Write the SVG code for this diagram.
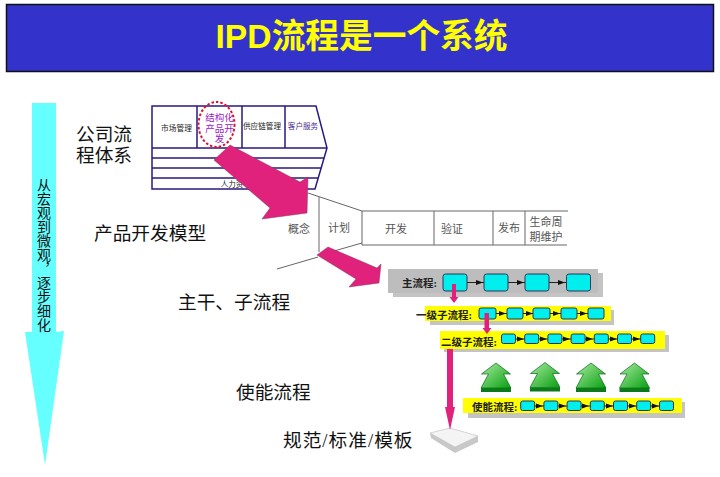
<svg xmlns="http://www.w3.org/2000/svg" width="720" height="477" viewBox="0 0 720 477">
<style>
.serif{font-family:"Liberation Serif","Noto Sans CJK SC",serif}
.sans{font-family:"Liberation Sans","Noto Sans CJK SC",sans-serif}
.lab{font-size:18.700px;fill:#111}
.phase{font-size:11px;fill:#555;text-anchor:middle}
.chev{fill:none;stroke:#2a1a80;stroke-width:1.5}
.thin{fill:none;stroke:#666;stroke-width:1}
.flow{font-size:10.5px;font-weight:bold;fill:#222}
.b1{fill:#00eeee;stroke:#335;stroke-width:1}
.pink{fill:#e0227c}
.bigp{fill:#e0227c;stroke:#7a3a5a;stroke-width:.5}
.lk{stroke:#222;stroke-width:1;fill:none}
.gray{fill:#bdbdbd}
.sh{fill:#c4c4c4}
.yel{fill:#ffff00}
</style>
<defs>
<polygon id="ah" points="0,-2.5 7,0 0,2.5" fill="#111"/>
<linearGradient id="gr" x1="0" y1="0" x2="1" y2="1"><stop offset="0" stop-color="#a8eaa0"/><stop offset="1" stop-color="#08a010"/></linearGradient>
<g id="up"><polygon points="0,0 14.5,11 7.5,11 15,25 -15,25 -7.5,11 -14.5,11" fill="url(#gr)" stroke="#0a6a1a" stroke-width=".7"/><rect x="-15" y="25" width="30" height="4" fill="#0a7a1a"/></g>
</defs>

<g id="title"><rect x="6.500" y="4.500" width="707" height="67" fill="#3333cc" stroke="#111" stroke-width="1.500"/>
<text x="361.500" y="47.500" text-anchor="middle" font-size="33.700" font-weight="bold" fill="#ffff00" class="sans">IPD流程是一个系统</text></g>

<g id="scale-arrow"><polygon points="32,103 56,103 56,332 64,331 45,465 25,332 32,332" fill="#66ffff"/>
<text x="42.500" y="178" class="serif" font-size="14" fill="#111" style="writing-mode:vertical-rl;text-orientation:upright">从宏观到微观，逐步细化</text></g>

<g id="company-label"><text class="serif lab" x="76" y="141">公司流</text><text class="serif lab" x="76" y="162">程体系</text></g>
<g id="product-label"><text class="serif lab" x="94" y="240">产品开发模型</text></g>
<g id="trunk-label"><text class="serif lab" x="178" y="309">主干、子流程</text></g>
<g id="enable-label"><text class="serif lab" x="236" y="399">使能流程</text></g>
<g id="spec-label"><text class="serif lab" x="283" y="447" letter-spacing="1">规范/标准/模板</text></g>

<g id="company-process">
<path class="chev" d="M152,106H316L327,148L315,189H152ZM152,148H327M152,158H324M152,168H321M152,178H318M197,106V148M242,106V148M285,106V148"/>
<text class="sans" x="176.500" y="131" font-size="7.700" text-anchor="middle" fill="#222">市场管理</text>
<text class="serif" x="219.500" y="121" font-size="9.500" text-anchor="middle" fill="#9a22c8">结构化</text>
<text class="serif" x="219.500" y="131.500" font-size="9.500" text-anchor="middle" fill="#9a22c8">产品开</text>
<text class="serif" x="219.500" y="141.500" font-size="9.500" text-anchor="middle" fill="#9a22c8">发</text>
<text class="sans" x="262" y="129" font-size="7.600" text-anchor="middle" fill="#222">供应链管理</text>
<text class="sans" x="303" y="129" font-size="7.600" text-anchor="middle" fill="#4a2a90">客户服务</text>
<text class="sans" x="232" y="187" font-size="7.500" text-anchor="middle" fill="#222">人力资</text>
<ellipse cx="216.500" cy="124.500" rx="18" ry="22.500" fill="none" stroke="#e01030" stroke-width="2" stroke-dasharray="2.500 2"/>
</g>

<g id="product-model">
<path class="thin" d="M308,193L362,211H568M319,197V252M362,211V245M362,245H567M434,211V245M493,211V245M525,211V245M362,243L334,251M318,257L277,269"/>
<text class="serif phase" x="299" y="233">概念</text>
<text class="serif phase" x="339" y="232">计划</text>
<text class="serif phase" x="396" y="233">开发</text>
<text class="serif phase" x="452" y="233">验证</text>
<text class="serif phase" x="509" y="232">发布</text>
<text class="serif phase" x="546" y="226">生命周</text>
<text class="serif phase" x="546" y="241">期维护</text>
</g>

<g id="main-flow">
<rect class="sh" x="393" y="273" width="210" height="24"/><rect class="gray" x="388" y="269" width="210" height="24"/>
<text class="serif flow" x="402" y="287">主流程:</text>
<rect class="b1" x="443" y="274" width="24" height="17" rx="2.500"/><rect class="b1" x="484" y="274" width="24" height="17" rx="2.500"/><rect class="b1" x="525" y="274" width="24" height="17" rx="2.500"/><rect class="b1" x="566.500" y="274" width="24" height="17" rx="2.500"/>
</g>
<g id="level1-flow">
<rect class="sh" x="430" y="310" width="184" height="15"/><rect class="yel" x="425" y="306" width="186" height="15"/>
<text class="serif flow" x="416" y="318.500">一级子流程:</text>
<rect class="b1" x="479" y="308" width="17" height="11" rx="2"/><rect class="b1" x="507" y="308" width="16" height="11" rx="2"/><rect class="b1" x="533" y="308" width="17" height="11" rx="2"/><rect class="b1" x="561" y="308" width="16" height="11" rx="2"/><rect class="b1" x="588" y="308" width="16" height="11" rx="2"/>
</g>
<g id="level2-flow">
<rect class="sh" x="444" y="335" width="225" height="17"/><rect class="yel" x="440" y="331" width="225" height="18"/>
<text class="serif flow" x="441" y="345.500">二级子流程:</text>
<rect class="b1" x="501.500" y="334" width="14" height="9.500" rx="2"/><rect class="b1" x="524.700" y="334" width="14" height="9.500" rx="2"/><rect class="b1" x="547.900" y="334" width="14" height="9.500" rx="2"/><rect class="b1" x="571.100" y="334" width="14" height="9.500" rx="2"/><rect class="b1" x="594.300" y="334" width="14" height="9.500" rx="2"/><rect class="b1" x="617.500" y="334" width="14" height="9.500" rx="2"/><rect class="b1" x="640.700" y="334" width="14" height="9.500" rx="2"/>
</g>
<g id="enable-flow">
<rect class="sh" x="468" y="402" width="217" height="16"/><rect class="yel" x="463" y="398" width="219" height="15"/>
<text class="serif flow" x="472" y="411">使能流程:</text>
<rect class="b1" x="520.700" y="401" width="14" height="9.500" rx="2"/><rect class="b1" x="543.900" y="401" width="14" height="9.500" rx="2"/><rect class="b1" x="567.100" y="401" width="14" height="9.500" rx="2"/><rect class="b1" x="590.300" y="401" width="14" height="9.500" rx="2"/><rect class="b1" x="613.500" y="401" width="14" height="9.500" rx="2"/><rect class="b1" x="636.700" y="401" width="14" height="9.500" rx="2"/><rect class="b1" x="659.500" y="401" width="14" height="9.500" rx="2"/>
</g>
<g id="support-arrows"><use href="#up" x="496" y="363"/><use href="#up" x="545" y="362.500"/><use href="#up" x="591" y="363"/><use href="#up" x="634.500" y="363"/></g>
<g id="book">
<polygon points="430,433 431,438 455,453 478,442 478,436 455,447" fill="#c8c8c8"/>
<polygon points="430,433 450,428 478,436 455,447" fill="#f4f4f4" stroke="#bbb" stroke-width=".6"/>
</g>

<g id="connectors">
<path class="lk" d="M467,282.500H484M508,282.500H525M549,282.500H566.500M496,313.500H507M523,313.500H533M550,313.500H561M577,313.500H588M515.500,339H524.700M538.700,339H547.900M561.900,339H571.100M585.100,339H594.300M608.300,339H617.500M631.500,339H640.700M534.700,406H543.900M557.900,406H567.100M581.100,406H590.300M604.300,406H613.500M627.500,406H636.700M650.700,406H659.500"/>
<use href="#ah" x="476" y="282.500"/><use href="#ah" x="517" y="282.500"/><use href="#ah" x="558" y="282.500"/>
<use href="#ah" x="499" y="313.500"/><use href="#ah" x="526" y="313.500"/><use href="#ah" x="553" y="313.500"/><use href="#ah" x="580" y="313.500"/>
<use href="#ah" x="517" y="339"/><use href="#ah" x="540" y="339"/><use href="#ah" x="563" y="339"/><use href="#ah" x="586" y="339"/><use href="#ah" x="610" y="339"/><use href="#ah" x="633" y="339"/>
<use href="#ah" x="536" y="406"/><use href="#ah" x="559" y="406"/><use href="#ah" x="582" y="406"/><use href="#ah" x="606" y="406"/><use href="#ah" x="629" y="406"/><use href="#ah" x="652" y="406"/>
<polygon class="bigp" points="214,160 230,145 300,182 308,177 307,213 262,219 270,208"/>
<polygon class="bigp" points="317,255 328,247 377,268 381,264 379,283 349,287 356,279"/>
<polygon class="pink" points="452,284 456,284 456,297 458.500,297 454,303 449.500,297 452,297"/>
<polygon class="pink" points="484.500,313 489,313 489,328 491.500,328 487,334 482.500,328 484.500,328"/>
<polygon class="pink" points="447,349 453,349 453,407 455,407 450,430 445,407 447,407"/>
</g>
</svg>
